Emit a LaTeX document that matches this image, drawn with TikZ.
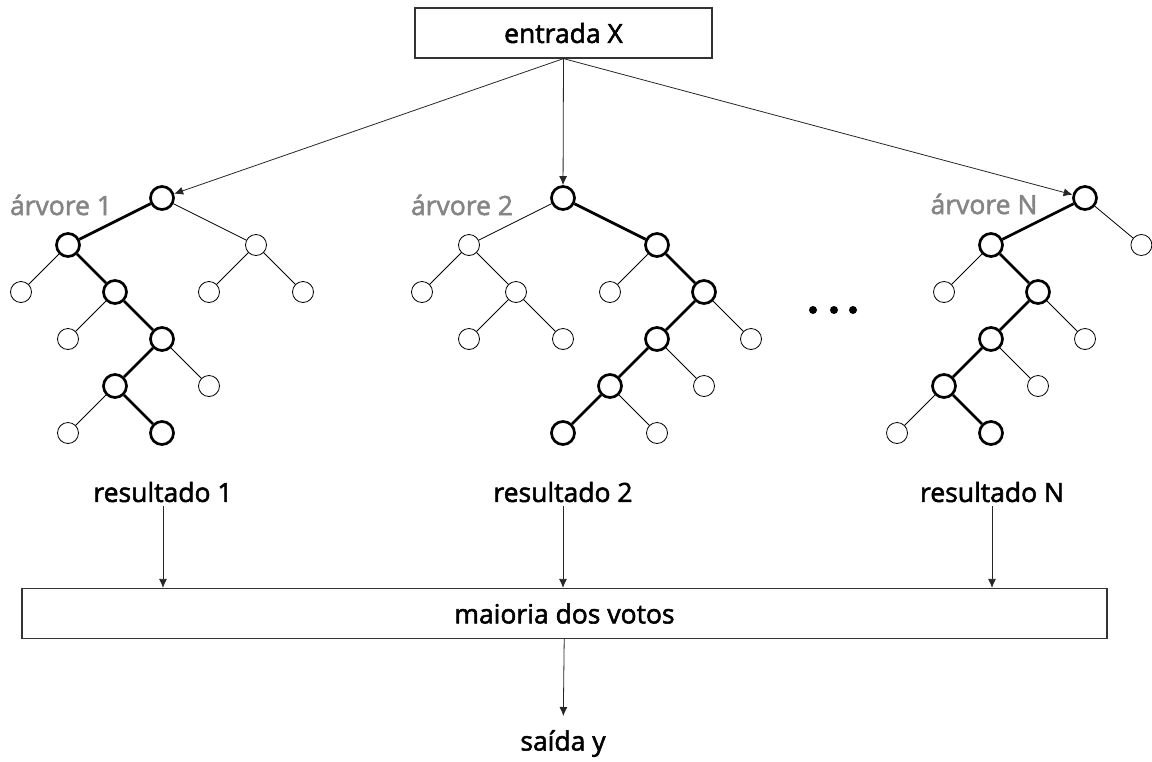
\documentclass[tikz,border=0pt]{standalone}
\usepackage{fontspec}
\setmainfont{Open Sans}[FakeBold=2]
\usetikzlibrary{arrows.meta,positioning}

\tikzset{
  leaf/.style={circle,draw,line width=0.8pt,minimum size=21pt,inner sep=0pt},
  hit/.style={circle,draw,line width=2.7pt,minimum size=23pt,inner sep=0pt},
  cut/.style={line width=0.8pt},
  hitline/.style={line width=2.7pt},
  txt/.style={font=\fontsize{26.5}{31}\selectfont,text=black},
  box/.style={txt,draw=black!80,line width=1.2pt,minimum height=50pt,inner sep=0pt},
  flow/.style={draw=black!85,line width=0.8pt,-{Latex[length=9pt,width=8pt]}},
  treename/.style={txt,text=black!48}
}

\begin{document}
\begin{tikzpicture}[x=1pt,y=-1pt]
\useasboundingbox (0,0) rectangle (1152,761);
%%%%%%%%%%%%%%%% input and vote
\node[box,minimum width=297pt] (entry) at (563.5,33) {entrada X};
\node[box,minimum width=1085pt] (vote) at (564.5,613.5) {maioria dos votos};
\node[txt,anchor=north,inner ysep=14pt] (out) at (563,716) {saída y};
%%%%%%%%%%%%%%%% tree 1
\begin{scope}[shift={(162,198)},x=47pt,y=-47pt]
\node[hit] (t1) at (0,0) {};
\node[hit] (t1l) at (-2,1) {};
\node[leaf] (t1r) at (2,1) {};
\node[leaf] (t1ll) at (-3,2) {};
\node[hit] (t1lr) at (-1,2) {};
\node[leaf] (t1rl) at (1,2) {};
\node[leaf] (t1rr) at (3,2) {};
\node[leaf] (t1lrl) at (-2,3) {};
\node[hit] (t1lrr) at (0,3) {};
\node[hit] (t1lrrl) at (-1,4) {};
\node[leaf] (t1lrrr) at (1,4) {};
\node[leaf] (t1lrrll) at (-2,5) {};
\node[hit] (t1lrrlr) at (0,5) {};
\end{scope}
\draw[hitline] (t1) -- (t1l) -- (t1lr) -- (t1lrr) -- (t1lrrl) -- (t1lrrlr);
\draw[cut] (t1) -- (t1r) (t1l) -- (t1ll) (t1r) -- (t1rl) (t1r) -- (t1rr)
  (t1lr) -- (t1lrl) (t1lrr) -- (t1lrrr) (t1lrrl) -- (t1lrrll);
\node[treename] (n1) at (61,205) {árvore 1};
%%%%%%%%%%%%%%%% tree 2
\begin{scope}[shift={(563,198)},x=47pt,y=-47pt]
\node[hit] (t2) at (0,0) {};
\node[leaf] (t2l) at (-2,1) {};
\node[hit] (t2r) at (2,1) {};
\node[leaf] (t2ll) at (-3,2) {};
\node[leaf] (t2lr) at (-1,2) {};
\node[leaf] (t2rl) at (1,2) {};
\node[hit] (t2rr) at (3,2) {};
\node[leaf] (t2lrl) at (-2,3) {};
\node[leaf] (t2lrr) at (0,3) {};
\node[hit] (t2rrl) at (2,3) {};
\node[leaf] (t2rrr) at (4,3) {};
\node[hit] (t2rrll) at (1,4) {};
\node[leaf] (t2rrlr) at (3,4) {};
\node[hit] (t2rrlll) at (0,5) {};
\node[leaf] (t2rrllr) at (2,5) {};
\end{scope}
\draw[hitline] (t2) -- (t2r) -- (t2rr) -- (t2rrl) -- (t2rrll) -- (t2rrlll);
\draw[cut] (t2) -- (t2l) (t2l) -- (t2ll) (t2l) -- (t2lr) (t2lr) -- (t2lrl)
  (t2lr) -- (t2lrr) (t2r) -- (t2rl) (t2rr) -- (t2rrr) (t2rrl) -- (t2rrlr)
  (t2rrll) -- (t2rrllr);
\node[treename] (n2) at (462,205) {árvore 2};
%%%%%%%%%%%%%%%% tree N
\begin{scope}[shift={(1085,198)},x=47pt,y=-47pt]
\node[hit] (tN) at (0,0) {};
\node[hit] (tNl) at (-2,1) {};
\node[leaf] (tNr) at (1.2,1) {};
\node[leaf] (tNll) at (-3,2) {};
\node[hit] (tNlr) at (-1,2) {};
\node[hit] (tNlrl) at (-2,3) {};
\node[leaf] (tNlrr) at (0,3) {};
\node[hit] (tNlrll) at (-3,4) {};
\node[leaf] (tNlrlr) at (-1,4) {};
\node[leaf] (tNlrlll) at (-4,5) {};
\node[hit] (tNlrllr) at (-2,5) {};
\end{scope}
\draw[hitline] (tN) -- (tNl) -- (tNlr) -- (tNlrl) -- (tNlrll) -- (tNlrllr);
\draw[cut] (tN) -- (tNr) (tNl) -- (tNll) (tNlr) -- (tNlrr) (tNlrl) -- (tNlrlr)
  (tNlrll) -- (tNlrlll);
\node[treename] (nN) at (984,204) {árvore N};
%%%%%%%%%%%%%%%% dots
\fill (813,310) circle (4) (834,310) circle (4) (853,310) circle (4);
%%%%%%%%%%%%%%%% results
\node[txt,inner ysep=4pt] (res1) at (163,492) {resultado 1};
\node[txt,inner ysep=4pt] (res2) at (563,492) {resultado 2};
\node[txt,inner ysep=4pt] (resN) at (992,492) {resultado N};
%%%%%%%%%%%%%%%% arrows
\draw[flow] (entry.south) -- (t1);
\draw[flow] (entry.south) -- (t2);
\draw[flow] (entry.south) -- (tN);
\draw[flow] (res1.south) -- (res1.south |- vote.north);
\draw[flow] (res2.south) -- (res2.south |- vote.north);
\draw[flow] (resN.south) -- (resN.south |- vote.north);
\draw[flow] (vote) -- (out);
\end{tikzpicture}
\end{document}
